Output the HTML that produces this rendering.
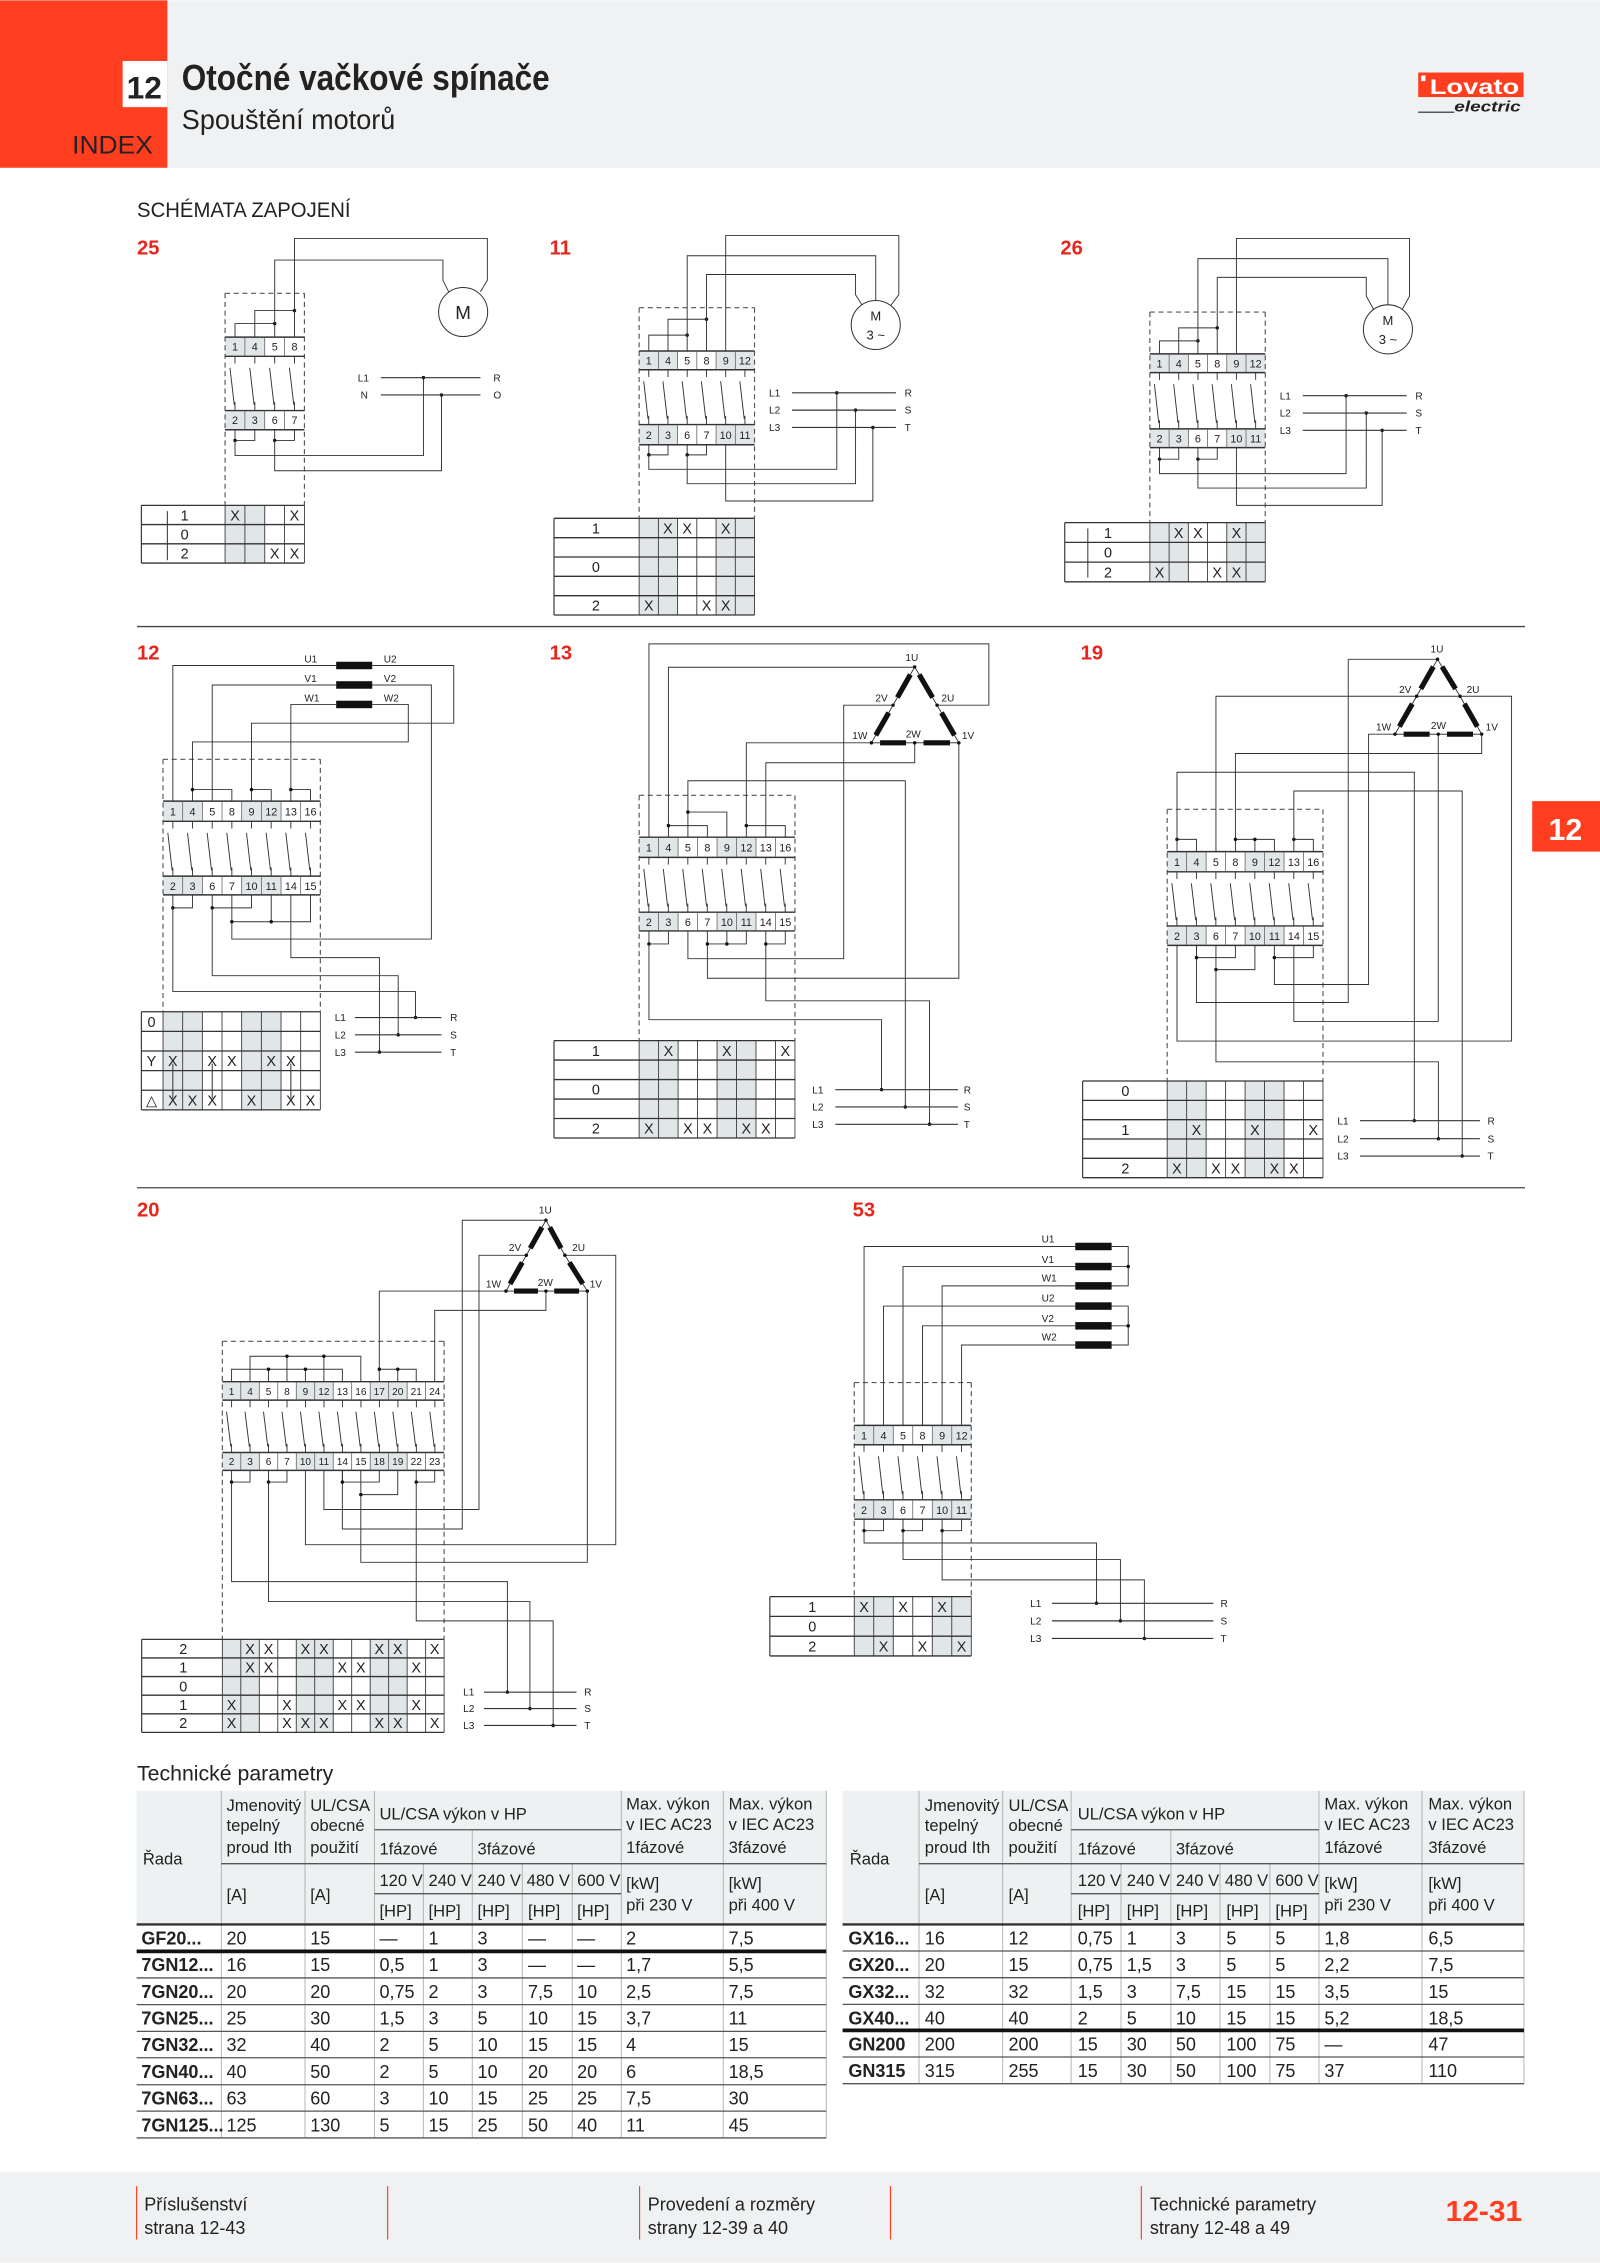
<!DOCTYPE html>
<html><head><meta charset="utf-8"><style>
html,body{margin:0;padding:0;background:#fff}
svg{display:block}
text{font-family:"Liberation Sans Narrow","Liberation Sans",sans-serif;fill:#222}
.t{font-size:7.5px;text-anchor:middle}
.s{font-size:7px;text-anchor:middle}
.x{font-size:10px;text-anchor:middle}
.r{font-size:10px;text-anchor:middle}
.l{font-size:7px}
.n{font-size:14px;font-weight:bold;fill:#e8251b}
.h{font-size:11.5px}
.d{font-size:12.5px}
.b{font-size:12.5px;font-weight:bold}
</style></head><body>
<svg id="sv" width="1600" height="2263" viewBox="0 0 1109 1568" xmlns="http://www.w3.org/2000/svg">
<rect x="0" y="0" width="1109" height="116" fill="#eff1f2"/>
<rect x="0" y="0" width="116" height="116" fill="#ff3d1f"/>
<rect x="85" y="42" width="31" height="32" fill="#fff"/>
<text x="100" y="68" style="font-size:22px;font-weight:bold;text-anchor:middle">12</text>
<text x="126" y="62" style="font-size:25px;font-weight:bold" textLength="255" lengthAdjust="spacingAndGlyphs">Otočné vačkové spínače</text>
<text x="126" y="89" style="font-size:19px" textLength="148" lengthAdjust="spacingAndGlyphs">Spouštění motorů</text>
<text x="50" y="106" style="font-size:17px" textLength="56" lengthAdjust="spacingAndGlyphs">INDEX</text>
<rect x="983" y="50" width="73" height="17" fill="#ff3d1f"/>
<rect x="985" y="52" width="3" height="4" fill="#fff"/>
<text x="991" y="65" style="font-size:15px;font-weight:bold;fill:#fff" textLength="62" lengthAdjust="spacingAndGlyphs">Lovato</text>
<text x="1008" y="77" style="font-size:10px;font-weight:bold;font-style:italic" textLength="46" lengthAdjust="spacingAndGlyphs">electric</text>
<line x1="983" y1="77.5" x2="1008" y2="77.5" stroke="#222" stroke-width="0.8"/>

<text x="95" y="150" style="font-size:15px" textLength="148" lengthAdjust="spacingAndGlyphs">SCHÉMATA ZAPOJENÍ</text>
<text x="95" y="176" class="n">25</text>
<text x="381" y="176" class="n">11</text>
<text x="735" y="176" class="n">26</text>
<text x="95" y="457" class="n">12</text>
<text x="381" y="457" class="n">13</text>
<text x="749" y="457" class="n">19</text>
<text x="95" y="843" class="n">20</text>
<text x="591" y="843" class="n">53</text>
<line x1="95" y1="434" x2="1057" y2="434" stroke="#444" stroke-width="0.9"/>
<line x1="95" y1="823" x2="1057" y2="823" stroke="#444" stroke-width="0.9"/>
<rect x="1062" y="555" width="47" height="35" fill="#ff3d1f"/>
<text x="1085" y="582" style="font-size:21px;font-weight:bold;fill:#fff;text-anchor:middle">12</text>

<g id="g"></g>

<!-- Diagram 25 labels -->
<text class="t" y="242.5"><tspan x="162.9">1</tspan><tspan x="176.6">4</tspan><tspan x="190.4">5</tspan><tspan x="204.1">8</tspan></text>
<text class="t" y="293.5"><tspan x="162.9">2</tspan><tspan x="176.6">3</tspan><tspan x="190.4">6</tspan><tspan x="204.1">7</tspan></text>
<text x="321" y="221" style="font-size:13px;text-anchor:middle">M</text>
<text class="l" x="248" y="264">L1</text><text class="l" x="250" y="276">N</text>
<text class="l" x="342" y="264">R</text><text class="l" x="342" y="276">O</text>
<text class="r" y="360.5"><tspan x="128">1</tspan><tspan x="162.9">X</tspan><tspan x="204.1">X</tspan></text>
<text class="r" y="373.8"><tspan x="128">0</tspan></text>
<text class="r" y="387"><tspan x="128">2</tspan><tspan x="190.4">X</tspan><tspan x="204.1">X</tspan></text>

<!-- Diagram 11 -->
<text class="t" y="252.5"><tspan x="449.7">1</tspan><tspan x="463">4</tspan><tspan x="476.3">5</tspan><tspan x="489.7">8</tspan><tspan x="503">9</tspan><tspan x="516.3">12</tspan></text>
<text class="t" y="304"><tspan x="449.7">2</tspan><tspan x="463">3</tspan><tspan x="476.3">6</tspan><tspan x="489.7">7</tspan><tspan x="503">10</tspan><tspan x="516.3">11</tspan></text>
<text x="607" y="222" style="font-size:9px;text-anchor:middle">M</text><text x="607" y="235" style="font-size:9px;text-anchor:middle">3 ~</text>
<text class="l" x="533" y="274.5">L1</text><text class="l" x="533" y="286.5">L2</text><text class="l" x="533" y="298.5">L3</text>
<text class="l" x="627" y="274.5">R</text><text class="l" x="627" y="286.5">S</text><text class="l" x="627" y="298.5">T</text>
<text class="r" y="369.5"><tspan x="413">1</tspan><tspan x="463">X</tspan><tspan x="476.3">X</tspan><tspan x="503">X</tspan></text>
<text class="r" y="396.3"><tspan x="413">0</tspan></text>
<text class="r" y="423"><tspan x="413">2</tspan><tspan x="449.7">X</tspan><tspan x="489.7">X</tspan><tspan x="503">X</tspan></text>

<!-- Diagram 26 -->
<text class="t" y="254.5"><tspan x="803.7">1</tspan><tspan x="817">4</tspan><tspan x="830.3">5</tspan><tspan x="843.7">8</tspan><tspan x="857">9</tspan><tspan x="870.3">12</tspan></text>
<text class="t" y="306.5"><tspan x="803.7">2</tspan><tspan x="817">3</tspan><tspan x="830.3">6</tspan><tspan x="843.7">7</tspan><tspan x="857">10</tspan><tspan x="870.3">11</tspan></text>
<text x="962" y="225" style="font-size:9px;text-anchor:middle">M</text><text x="962" y="238" style="font-size:9px;text-anchor:middle">3 ~</text>
<text class="l" x="887" y="276.5">L1</text><text class="l" x="887" y="288.5">L2</text><text class="l" x="887" y="300.5">L3</text>
<text class="l" x="981" y="276.5">R</text><text class="l" x="981" y="288.5">S</text><text class="l" x="981" y="300.5">T</text>
<text class="r" y="372.5"><tspan x="768">1</tspan><tspan x="817">X</tspan><tspan x="830.3">X</tspan><tspan x="857">X</tspan></text>
<text class="r" y="386"><tspan x="768">0</tspan></text>
<text class="r" y="400"><tspan x="768">2</tspan><tspan x="803.7">X</tspan><tspan x="843.7">X</tspan><tspan x="857">X</tspan></text>

<!-- Diagram 12 -->
<text class="t" y="565"><tspan x="119.8">1</tspan><tspan x="133.4">4</tspan><tspan x="147.1">5</tspan><tspan x="160.7">8</tspan><tspan x="174.3">9</tspan><tspan x="188">12</tspan><tspan x="201.6">13</tspan><tspan x="215.2">16</tspan></text>
<text class="t" y="616.5"><tspan x="119.8">2</tspan><tspan x="133.4">3</tspan><tspan x="147.1">6</tspan><tspan x="160.7">7</tspan><tspan x="174.3">10</tspan><tspan x="188">11</tspan><tspan x="201.6">14</tspan><tspan x="215.2">15</tspan></text>
<text class="l" x="211" y="459">U1</text><text class="l" x="211" y="472.5">V1</text><text class="l" x="211" y="486">W1</text>
<text class="l" x="266" y="459">U2</text><text class="l" x="266" y="472.5">V2</text><text class="l" x="266" y="486">W2</text>
<text class="l" x="232" y="707.5">L1</text><text class="l" x="232" y="719.5">L2</text><text class="l" x="232" y="731.5">L3</text>
<text class="l" x="312" y="707.5">R</text><text class="l" x="312" y="719.5">S</text><text class="l" x="312" y="731.5">T</text>
<text class="r" y="711.5"><tspan x="105">0</tspan></text>
<text class="r" y="738.7"><tspan x="105">Y</tspan><tspan x="119.8">X</tspan><tspan x="147.1">X</tspan><tspan x="160.7">X</tspan><tspan x="188">X</tspan><tspan x="201.6">X</tspan></text>
<text class="r" y="765.9"><tspan x="105">△</tspan><tspan x="119.8">X</tspan><tspan x="133.4">X</tspan><tspan x="147.1">X</tspan><tspan x="174.3">X</tspan><tspan x="201.6">X</tspan><tspan x="215.2">X</tspan></text>

<!-- Diagram 13 -->
<text class="t" y="590"><tspan x="449.8">1</tspan><tspan x="463.3">4</tspan><tspan x="476.8">5</tspan><tspan x="490.3">8</tspan><tspan x="503.8">9</tspan><tspan x="517.3">12</tspan><tspan x="530.8">13</tspan><tspan x="544.3">16</tspan></text>
<text class="t" y="641.5"><tspan x="449.8">2</tspan><tspan x="463.3">3</tspan><tspan x="476.8">6</tspan><tspan x="490.3">7</tspan><tspan x="503.8">10</tspan><tspan x="517.3">11</tspan><tspan x="530.8">14</tspan><tspan x="544.3">15</tspan></text>
<text class="s" x="632" y="458">1U</text><text class="s" x="611" y="486">2V</text><text class="s" x="657" y="486">2U</text>
<text class="s" x="596" y="512">1W</text><text class="s" x="633" y="511">2W</text><text class="s" x="671" y="512">1V</text>
<text class="l" x="563" y="757.5">L1</text><text class="l" x="563" y="769.5">L2</text><text class="l" x="563" y="781.5">L3</text>
<text class="l" x="668" y="757.5">R</text><text class="l" x="668" y="769.5">S</text><text class="l" x="668" y="781.5">T</text>
<text class="r" y="731.5"><tspan x="413">1</tspan><tspan x="463.3">X</tspan><tspan x="503.8">X</tspan><tspan x="544.3">X</tspan></text>
<text class="r" y="758.5"><tspan x="413">0</tspan></text>
<text class="r" y="785.5"><tspan x="413">2</tspan><tspan x="449.8">X</tspan><tspan x="476.8">X</tspan><tspan x="490.3">X</tspan><tspan x="517.3">X</tspan><tspan x="530.8">X</tspan></text>

<!-- Diagram 19 -->
<text class="t" y="600"><tspan x="815.8">1</tspan><tspan x="829.3">4</tspan><tspan x="842.8">5</tspan><tspan x="856.3">8</tspan><tspan x="869.8">9</tspan><tspan x="883.3">12</tspan><tspan x="896.8">13</tspan><tspan x="910.3">16</tspan></text>
<text class="t" y="651.3"><tspan x="815.8">2</tspan><tspan x="829.3">3</tspan><tspan x="842.8">6</tspan><tspan x="856.3">7</tspan><tspan x="869.8">10</tspan><tspan x="883.3">11</tspan><tspan x="896.8">14</tspan><tspan x="910.3">15</tspan></text>
<text class="s" x="996" y="452">1U</text><text class="s" x="974" y="480">2V</text><text class="s" x="1021" y="480">2U</text>
<text class="s" x="959" y="506">1W</text><text class="s" x="997" y="505">2W</text><text class="s" x="1034" y="506">1V</text>
<text class="l" x="927" y="779">L1</text><text class="l" x="927" y="791.5">L2</text><text class="l" x="927" y="803.5">L3</text>
<text class="l" x="1031" y="779">R</text><text class="l" x="1031" y="791.5">S</text><text class="l" x="1031" y="803.5">T</text>
<text class="r" y="759.5"><tspan x="780">0</tspan></text>
<text class="r" y="786.3"><tspan x="780">1</tspan><tspan x="829.3">X</tspan><tspan x="869.8">X</tspan><tspan x="910.3">X</tspan></text>
<text class="r" y="813"><tspan x="780">2</tspan><tspan x="815.8">X</tspan><tspan x="842.8">X</tspan><tspan x="856.3">X</tspan><tspan x="883.3">X</tspan><tspan x="896.8">X</tspan></text>

<!-- Diagram 20 -->
<text class="s" y="966.5"><tspan x="160.5">1</tspan><tspan x="173.3">4</tspan><tspan x="186.1">5</tspan><tspan x="198.9">8</tspan><tspan x="211.7">9</tspan><tspan x="224.5">12</tspan><tspan x="237.3">13</tspan><tspan x="250.1">16</tspan><tspan x="262.9">17</tspan><tspan x="275.7">20</tspan><tspan x="288.5">21</tspan><tspan x="301.3">24</tspan></text>
<text class="s" y="1015.3"><tspan x="160.5">2</tspan><tspan x="173.3">3</tspan><tspan x="186.1">6</tspan><tspan x="198.9">7</tspan><tspan x="211.7">10</tspan><tspan x="224.5">11</tspan><tspan x="237.3">14</tspan><tspan x="250.1">15</tspan><tspan x="262.9">18</tspan><tspan x="275.7">19</tspan><tspan x="288.5">22</tspan><tspan x="301.3">23</tspan></text>
<text class="s" x="378" y="841">1U</text><text class="s" x="357" y="867">2V</text><text class="s" x="401" y="867">2U</text>
<text class="s" x="342" y="892">1W</text><text class="s" x="378" y="891">2W</text><text class="s" x="413" y="892">1V</text>
<text class="l" x="321" y="1175">L1</text><text class="l" x="321" y="1186.5">L2</text><text class="l" x="321" y="1198">L3</text>
<text class="l" x="405" y="1175">R</text><text class="l" x="405" y="1186.5">S</text><text class="l" x="405" y="1198">T</text>
<text class="r" y="1146"><tspan x="127">2</tspan><tspan x="173.3">X</tspan><tspan x="186.1">X</tspan><tspan x="211.7">X</tspan><tspan x="224.5">X</tspan><tspan x="262.9">X</tspan><tspan x="275.7">X</tspan><tspan x="301.3">X</tspan></text>
<text class="r" y="1159"><tspan x="127">1</tspan><tspan x="173.3">X</tspan><tspan x="186.1">X</tspan><tspan x="237.3">X</tspan><tspan x="250.1">X</tspan><tspan x="288.5">X</tspan></text>
<text class="r" y="1172"><tspan x="127">0</tspan></text>
<text class="r" y="1184.8"><tspan x="127">1</tspan><tspan x="160.5">X</tspan><tspan x="198.9">X</tspan><tspan x="237.3">X</tspan><tspan x="250.1">X</tspan><tspan x="288.5">X</tspan></text>
<text class="r" y="1197.6"><tspan x="127">2</tspan><tspan x="160.5">X</tspan><tspan x="198.9">X</tspan><tspan x="211.7">X</tspan><tspan x="224.5">X</tspan><tspan x="262.9">X</tspan><tspan x="275.7">X</tspan><tspan x="301.3">X</tspan></text>

<!-- Diagram 53 -->
<text class="t" y="997.4"><tspan x="598.9">1</tspan><tspan x="612.4">4</tspan><tspan x="625.9">5</tspan><tspan x="639.4">8</tspan><tspan x="653">9</tspan><tspan x="666.5">12</tspan></text>
<text class="t" y="1049"><tspan x="598.9">2</tspan><tspan x="612.4">3</tspan><tspan x="625.9">6</tspan><tspan x="639.4">7</tspan><tspan x="653">10</tspan><tspan x="666.5">11</tspan></text>
<text class="l" x="722" y="861">U1</text><text class="l" x="722" y="875">V1</text><text class="l" x="722" y="888">W1</text>
<text class="l" x="722" y="902">U2</text><text class="l" x="722" y="916">V2</text><text class="l" x="722" y="929">W2</text>
<text class="l" x="714" y="1113.5">L1</text><text class="l" x="714" y="1125.7">L2</text><text class="l" x="714" y="1138">L3</text>
<text class="l" x="846" y="1113.5">R</text><text class="l" x="846" y="1125.7">S</text><text class="l" x="846" y="1138">T</text>
<text class="r" y="1117"><tspan x="563">1</tspan><tspan x="598.9">X</tspan><tspan x="625.9">X</tspan><tspan x="653">X</tspan></text>
<text class="r" y="1130.7"><tspan x="563">0</tspan></text>
<text class="r" y="1144.4"><tspan x="563">2</tspan><tspan x="612.4">X</tspan><tspan x="639.4">X</tspan><tspan x="666.5">X</tspan></text>

<!-- Technical tables -->
<text x="95" y="1234" style="font-size:15px" textLength="136" lengthAdjust="spacingAndGlyphs">Technické parametry</text>
<rect x="94.7" y="1241" width="478" height="92.6" fill="#eef1f2"/>
<rect x="584" y="1241" width="472.3" height="92.6" fill="#eef1f2"/>
<g id="tl"></g>
<text class="h" x="99" y="1292">Řada</text>
<text class="h" x="157" y="1255">Jmenovitý</text><text class="h" x="157" y="1269">tepelný</text><text class="h" x="157" y="1284">proud Ith</text>
<text class="h" x="215" y="1255">UL/CSA</text><text class="h" x="215" y="1269">obecné</text><text class="h" x="215" y="1284">použití</text>
<text class="h" x="263" y="1261">UL/CSA výkon v HP</text>
<text class="h" x="263" y="1285">1fázové</text><text class="h" x="331" y="1285">3fázové</text>
<text class="h" x="434" y="1254">Max. výkon</text><text class="h" x="434" y="1268">v IEC AC23</text><text class="h" x="434" y="1284">1fázové</text>
<text class="h" x="505" y="1254">Max. výkon</text><text class="h" x="505" y="1268">v IEC AC23</text><text class="h" x="505" y="1284">3fázové</text>
<text class="h" x="157" y="1317">[A]</text><text class="h" x="215" y="1317">[A]</text>
<text class="h" y="1307"><tspan x="263">120 V</tspan><tspan x="297">240 V</tspan><tspan x="331">240 V</tspan><tspan x="365">480 V</tspan><tspan x="400">600 V</tspan></text>
<text class="h" y="1328"><tspan x="263">[HP]</tspan><tspan x="297">[HP]</tspan><tspan x="331">[HP]</tspan><tspan x="366">[HP]</tspan><tspan x="400">[HP]</tspan></text>
<text class="h" x="434" y="1309">[kW]</text><text class="h" x="434" y="1324">při 230 V</text>
<text class="h" x="505" y="1309">[kW]</text><text class="h" x="505" y="1324">při 400 V</text>

<text class="h" x="589" y="1292">Řada</text>
<text class="h" x="641" y="1255">Jmenovitý</text><text class="h" x="641" y="1269">tepelný</text><text class="h" x="641" y="1284">proud Ith</text>
<text class="h" x="699" y="1255">UL/CSA</text><text class="h" x="699" y="1269">obecné</text><text class="h" x="699" y="1284">použití</text>
<text class="h" x="747" y="1261">UL/CSA výkon v HP</text>
<text class="h" x="747" y="1285">1fázové</text><text class="h" x="815" y="1285">3fázové</text>
<text class="h" x="918" y="1254">Max. výkon</text><text class="h" x="918" y="1268">v IEC AC23</text><text class="h" x="918" y="1284">1fázové</text>
<text class="h" x="990" y="1254">Max. výkon</text><text class="h" x="990" y="1268">v IEC AC23</text><text class="h" x="990" y="1284">3fázové</text>
<text class="h" x="641" y="1317">[A]</text><text class="h" x="699" y="1317">[A]</text>
<text class="h" y="1307"><tspan x="747">120 V</tspan><tspan x="781">240 V</tspan><tspan x="815">240 V</tspan><tspan x="849">480 V</tspan><tspan x="884">600 V</tspan></text>
<text class="h" y="1328"><tspan x="747">[HP]</tspan><tspan x="781">[HP]</tspan><tspan x="815">[HP]</tspan><tspan x="850">[HP]</tspan><tspan x="884">[HP]</tspan></text>
<text class="h" x="918" y="1309">[kW]</text><text class="h" x="918" y="1324">při 230 V</text>
<text class="h" x="990" y="1309">[kW]</text><text class="h" x="990" y="1324">při 400 V</text>

<g class="d">
<text y="1347.5"><tspan class="b" x="98">GF20...</tspan><tspan x="157">20</tspan><tspan x="215">15</tspan><tspan x="263">—</tspan><tspan x="297">1</tspan><tspan x="331">3</tspan><tspan x="366">—</tspan><tspan x="400">—</tspan><tspan x="434">2</tspan><tspan x="505">7,5</tspan></text>
<text y="1366"><tspan class="b" x="98">7GN12...</tspan><tspan x="157">16</tspan><tspan x="215">15</tspan><tspan x="263">0,5</tspan><tspan x="297">1</tspan><tspan x="331">3</tspan><tspan x="366">—</tspan><tspan x="400">—</tspan><tspan x="434">1,7</tspan><tspan x="505">5,5</tspan></text>
<text y="1384.5"><tspan class="b" x="98">7GN20...</tspan><tspan x="157">20</tspan><tspan x="215">20</tspan><tspan x="263">0,75</tspan><tspan x="297">2</tspan><tspan x="331">3</tspan><tspan x="366">7,5</tspan><tspan x="400">10</tspan><tspan x="434">2,5</tspan><tspan x="505">7,5</tspan></text>
<text y="1403"><tspan class="b" x="98">7GN25...</tspan><tspan x="157">25</tspan><tspan x="215">30</tspan><tspan x="263">1,5</tspan><tspan x="297">3</tspan><tspan x="331">5</tspan><tspan x="366">10</tspan><tspan x="400">15</tspan><tspan x="434">3,7</tspan><tspan x="505">11</tspan></text>
<text y="1421.5"><tspan class="b" x="98">7GN32...</tspan><tspan x="157">32</tspan><tspan x="215">40</tspan><tspan x="263">2</tspan><tspan x="297">5</tspan><tspan x="331">10</tspan><tspan x="366">15</tspan><tspan x="400">15</tspan><tspan x="434">4</tspan><tspan x="505">15</tspan></text>
<text y="1440"><tspan class="b" x="98">7GN40...</tspan><tspan x="157">40</tspan><tspan x="215">50</tspan><tspan x="263">2</tspan><tspan x="297">5</tspan><tspan x="331">10</tspan><tspan x="366">20</tspan><tspan x="400">20</tspan><tspan x="434">6</tspan><tspan x="505">18,5</tspan></text>
<text y="1458.5"><tspan class="b" x="98">7GN63...</tspan><tspan x="157">63</tspan><tspan x="215">60</tspan><tspan x="263">3</tspan><tspan x="297">10</tspan><tspan x="331">15</tspan><tspan x="366">25</tspan><tspan x="400">25</tspan><tspan x="434">7,5</tspan><tspan x="505">30</tspan></text>
<text y="1477"><tspan class="b" x="98">7GN125...</tspan><tspan x="157">125</tspan><tspan x="215">130</tspan><tspan x="263">5</tspan><tspan x="297">15</tspan><tspan x="331">25</tspan><tspan x="366">50</tspan><tspan x="400">40</tspan><tspan x="434">11</tspan><tspan x="505">45</tspan></text>

<text y="1347.5"><tspan class="b" x="588">GX16...</tspan><tspan x="641">16</tspan><tspan x="699">12</tspan><tspan x="747">0,75</tspan><tspan x="781">1</tspan><tspan x="815">3</tspan><tspan x="850">5</tspan><tspan x="884">5</tspan><tspan x="918">1,8</tspan><tspan x="990">6,5</tspan></text>
<text y="1366"><tspan class="b" x="588">GX20...</tspan><tspan x="641">20</tspan><tspan x="699">15</tspan><tspan x="747">0,75</tspan><tspan x="781">1,5</tspan><tspan x="815">3</tspan><tspan x="850">5</tspan><tspan x="884">5</tspan><tspan x="918">2,2</tspan><tspan x="990">7,5</tspan></text>
<text y="1384.5"><tspan class="b" x="588">GX32...</tspan><tspan x="641">32</tspan><tspan x="699">32</tspan><tspan x="747">1,5</tspan><tspan x="781">3</tspan><tspan x="815">7,5</tspan><tspan x="850">15</tspan><tspan x="884">15</tspan><tspan x="918">3,5</tspan><tspan x="990">15</tspan></text>
<text y="1403"><tspan class="b" x="588">GX40...</tspan><tspan x="641">40</tspan><tspan x="699">40</tspan><tspan x="747">2</tspan><tspan x="781">5</tspan><tspan x="815">10</tspan><tspan x="850">15</tspan><tspan x="884">15</tspan><tspan x="918">5,2</tspan><tspan x="990">18,5</tspan></text>
<text y="1421"><tspan class="b" x="588">GN200</tspan><tspan x="641">200</tspan><tspan x="699">200</tspan><tspan x="747">15</tspan><tspan x="781">30</tspan><tspan x="815">50</tspan><tspan x="850">100</tspan><tspan x="884">75</tspan><tspan x="918">—</tspan><tspan x="990">47</tspan></text>
<text y="1439.5"><tspan class="b" x="588">GN315</tspan><tspan x="641">315</tspan><tspan x="699">255</tspan><tspan x="747">15</tspan><tspan x="781">30</tspan><tspan x="815">50</tspan><tspan x="850">100</tspan><tspan x="884">75</tspan><tspan x="918">37</tspan><tspan x="990">110</tspan></text>
</g>

<!-- Footer -->
<rect x="0" y="1505" width="1109" height="63" fill="#eff1f2"/>
<g stroke="#ff3d1f" stroke-width="0.8"><line x1="94.7" y1="1515" x2="94.7" y2="1552"/><line x1="268.7" y1="1515" x2="268.7" y2="1552"/><line x1="443.3" y1="1515" x2="443.3" y2="1552"/><line x1="617.2" y1="1515" x2="617.2" y2="1552"/><line x1="791.1" y1="1515" x2="791.1" y2="1552"/></g>
<text x="100" y="1532" style="font-size:12.5px">Příslušenství</text><text x="100" y="1548" style="font-size:12.5px">strana 12-43</text>
<text x="449" y="1532" style="font-size:12.5px">Provedení a rozměry</text><text x="449" y="1548" style="font-size:12.5px">strany 12-39 a 40</text>
<text x="797" y="1532" style="font-size:12.5px">Technické parametry</text><text x="797" y="1548" style="font-size:12.5px">strany 12-48 a 49</text>
<text x="1002" y="1539" style="font-size:20px;font-weight:bold;fill:#ff3d1f" textLength="53" lengthAdjust="spacingAndGlyphs">12-31</text>
</svg>
<script>
(function(){
var NS='http://www.w3.org/2000/svg';
var G=document.getElementById('g');
function el(p,t,a){var e=document.createElementNS(NS,t);for(var k in a)e.setAttribute(k,a[k]);p.insertBefore(e,p.firstChild&&t==='rect'&&a.bg?p.firstChild:null);return e;}
function W(){var a=arguments,p=[];for(var i=0;i<a.length;i+=2)p.push(a[i]+','+a[i+1]);el(G,'polyline',{points:p.join(' '),fill:'none',stroke:'#333','stroke-width':0.65});}
function D(x,y){el(G,'circle',{cx:x,cy:y,r:1.2,fill:'#111'});}
function L(x1,y1,x2,y2,w,c,da){var o={x1:x1,y1:y1,x2:x2,y2:y2,stroke:c||'#333','stroke-width':w||0.65};if(da)o['stroke-dasharray']=da;el(G,'line',o);}
function fillc(i){return (Math.floor(i/2)%2==0)?'#e1e7e9':'#fff';}
function blk(x0,n,cw,t1,t2,b1,b2,dt,db){
  var x1=x0+n*cw;
  for(var i=0;i<n;i++){
    el(G,'rect',{x:x0+i*cw,y:t1,width:cw,height:t2-t1,fill:fillc(i)});
    el(G,'rect',{x:x0+i*cw,y:b1,width:cw,height:b2-b1,fill:fillc(i)});
  }
  L(x0,dt,x1,dt,0.8,'#555','3.5 2.5');L(x0,dt,x0,db,0.8,'#555','3.5 2.5');L(x1,dt,x1,db,0.8,'#555','3.5 2.5');
  [t1,t2,b1,b2].forEach(function(y){L(x0,y,x1,y,1,'#333');});
  for(var i=1;i<n;i++){L(x0+i*cw,t1,x0+i*cw,t2,0.5,'#555');L(x0+i*cw,b1,x0+i*cw,b2,0.5,'#555');}
  for(var i=0;i<n;i++){var c=x0+cw*(i+.5);
    L(c,t2,c,t2+5);L(c-3.5,t2+8,c-0.5,b1-4);L(c,b1-6,c,b1);}
}
function tbl(xl,x0,n,cw,y0,rh,nr){
  var x1=x0+n*cw,y1=y0+nr*rh;
  el(G,'rect',{x:xl,y:y0,width:x1-xl,height:y1-y0,fill:'#fff'});
  for(var i=0;i<n;i++)el(G,'rect',{x:x0+i*cw,y:y0,width:cw,height:y1-y0,fill:fillc(i)});
  for(var k=0;k<=nr;k++)L(xl,y0+k*rh,x1,y0+k*rh,0.9,'#333');
  L(xl,y0,xl,y1,0.8);for(var i=0;i<=n;i++)L(x0+i*cw,y0,x0+i*cw,y1,0.6);
}
function motor(x,y){el(G,'circle',{cx:x,cy:y,r:17,fill:'#fff',stroke:'#333','stroke-width':0.7});}
function coilH(x1,x2,y){el(G,'rect',{x:x1,y:y-2.6,width:x2-x1,height:5.2,fill:'#111'});}
function tri(n){
  var segs=[['u1','v2'],['v2','w1'],['u1','u2'],['u2','v1'],['w1','w2'],['w2','v1']];
  segs.forEach(function(s){var a=n[s[0]],b=n[s[1]];L(a[0],a[1],b[0],b[1],0.6,'#222');
    var ax=a[0]+(b[0]-a[0])*0.2,ay=a[1]+(b[1]-a[1])*0.2,bx=a[0]+(b[0]-a[0])*0.8,by=a[1]+(b[1]-a[1])*0.8;
    L(ax,ay,bx,by,3.6,'#111');});
  for(var k in n)D(n[k][0],n[k][1]);
}
// ---- 25
tbl(98,156,4,13.75,350,13.33,3);
blk(156,4,13.75,233.4,246.7,284.3,297.6,203,350);
W(162.9,233.4,162.9,224,190.4,224);D(190.4,224);
W(176.6,233.4,176.6,215,204.1,215);D(204.1,215);
W(190.4,233.4,190.4,180,307,180,307,194,311,202);
W(204.1,233.4,204.1,165,337.8,165,337.8,194,333,202);
motor(321,216);
W(162.9,297.6,162.9,305,176.6,305,176.6,297.6);D(162.9,305);
W(190.4,297.6,190.4,305,204.1,305,204.1,297.6);D(190.4,305);
W(162.9,305,162.9,315.5,293.5,315.5,293.5,261.5);D(293.5,261.5);
W(190.4,305,190.4,326,306,326,306,273.5);D(306,273.5);
L(264,261.5,333,261.5,0.8);L(264,273.5,333,273.5,0.8);
L(116,354,116,388,0.7);
// ---- 11
tbl(384,443,6,13.33,359,13.4,5);
blk(443,6,13.33,243,256,294,308,213,359);
W(449.7,243,449.7,232,476.3,232);D(476.3,232);
W(463,243,463,221,489.7,221);D(489.7,221);
W(476.3,243,476.3,177,607,177,607,208);
W(489.7,243,489.7,190,593,190,593,204,598,212);
W(503,243,503,163,623,163,623,204,617,212);
motor(607,225);
W(449.7,308,449.7,315,463,315,463,308);D(449.7,315);
W(476.3,308,476.3,315,489.7,315,489.7,308);D(476.3,315);
W(449.7,315,449.7,325,580,325,580,272);D(580,272);
W(476.3,315,476.3,335,593,335,593,284);D(593,284);
W(503,308,503,347,605,347,605,296);D(605,296);
[272,284,296].forEach(function(y){L(549,y,621,y,0.8);});
// ---- 26
tbl(738,797,6,13.33,362,13.67,3);
blk(797,6,13.33,245,258,297,310,216,362);
W(803.7,245,803.7,236,830.3,236);D(830.3,236);
W(817,245,817,227,843.7,227);D(843.7,227);
W(830.3,245,830.3,179,962,179,962,211);
W(843.7,245,843.7,192,947,192,947,205,952,214);
W(857,245,857,165,977,165,977,205,972,214);
motor(962,228);
W(803.7,310,803.7,318,817,318,817,310);D(803.7,318);
W(830.3,310,830.3,318,843.7,318,843.7,310);D(830.3,318);
W(803.7,318,803.7,328,933,328,933,274);D(933,274);
W(830.3,318,830.3,338,947,338,947,286);D(947,286);
W(857,310,857,350,958,350,958,298);D(958,298);
[274,286,298].forEach(function(y){L(903,y,975,y,0.8);});
L(754,366,754,400,0.7);
// ---- 12
tbl(98,113,8,13.63,701,13.6,5);
blk(113,8,13.63,555,569,607,620,526,701);
W(119.8,555,119.8,461,233,461);
W(147.1,555,147.1,474.5,233,474.5);
W(201.6,555,201.6,488,233,488);
W(258,461,314.5,461,314.5,501,174.3,501,174.3,555);
W(258,474.5,299,474.5,299,650.6,160.7,650.6,160.7,620);
W(258,488,283,488,283,514,133.4,514,133.4,555);
coilH(233,258,461);coilH(233,258,474.5);coilH(233,258,488);
W(133.4,547,160.7,547,160.7,555);D(133.4,547);
W(174.3,547,188,547,188,555);D(174.3,547);
W(201.6,547,215.2,547,215.2,555);D(201.6,547);
W(119.8,620,119.8,629,133.4,629,133.4,620);D(119.8,629);
W(147.1,620,147.1,629,174.3,629,174.3,620);D(147.1,629);
W(160.7,638.6,215.2,638.6,215.2,620);W(188,620,188,638.6);D(160.7,638.6);D(188,638.6);
W(119.8,629,119.8,687,288,687,288,705);D(288,705);
W(147.1,629,147.1,676,276,676,276,717);D(276,717);
W(201.6,620,201.6,663.5,263,663.5,263,729);D(263,729);
[705,717,729].forEach(function(y){L(246,y,306,y,0.8);});
[119.8,147.1,201.6].forEach(function(x){L(x,737,x,761,0.7);});
// ---- 13
tbl(384,443,8,13.5,721,13.5,5);
blk(443,8,13.5,580,594,632,645,551,721);
W(449.8,580,449.8,446,685.4,446,685.4,488.5,649.5,488.5);
W(463.3,580,463.3,462.2,634,462.2);
W(619,488.5,584.8,488.5,584.8,664.2,476.8,664.2,476.8,645);
W(604,514.6,517.3,514.6,517.3,580);
W(634,514.6,634,528.4,530.8,528.4,530.8,580);
W(530.8,645,530.8,693.4,644.3,693.4,644.3,779);D(644.3,779);
W(664.6,514.6,664.6,677.8,490.3,677.8,490.3,645);
W(476.8,580,476.8,540.9,627.5,540.9,627.5,767);D(627.5,767);
W(476.8,562.6,503.8,562.6,503.8,580);D(476.8,562.6);
W(463.3,572,490.3,572,490.3,580);D(463.3,572);
W(517.3,572,544.3,572,544.3,580);D(517.3,572);
W(449.8,645,449.8,654,463.3,654,463.3,645);D(449.8,654);
W(490.3,654,517.3,654,517.3,645);W(503.8,645,503.8,654);D(490.3,654);D(503.8,654);
W(530.8,654,544.3,654,544.3,645);D(530.8,654);
W(449.8,654,449.8,706.5,611,706.5,611,755);D(611,755);
[755,767,779].forEach(function(y){L(579,y,664,y,0.8);});
tri({u1:[634,462],v2:[619,488.5],u2:[649.5,488.5],w1:[604,514.6],w2:[634,514.6],v1:[664.6,514.6]});
// ---- 19
tbl(750.4,809,8,13.5,749,13.4,5);
blk(809,8,13.5,590,604,641.5,655,560.7,749);
W(996.4,456.7,934.5,456.7,934.5,694.6,829.3,694.6,829.3,655);
W(842.8,590,842.8,482.3,1047.7,482.3,1047.7,721.3,815.8,721.3,815.8,655);
W(966.9,508.6,948.6,508.6,948.6,682.1,883.3,682.1,883.3,655);
W(996.9,508.6,996.9,707.7,896.8,707.7,896.8,655);
W(1027,508.6,1027,522,856.3,522,856.3,590);
W(815.8,581.5,829.3,581.5,829.3,590);D(815.8,581.5);
W(856.3,581.5,883.3,581.5,883.3,590);W(869.8,581.5,869.8,590);D(856.3,581.5);D(869.8,581.5);
W(896.8,581.5,910.3,581.5,910.3,590);D(896.8,581.5);
W(815.8,590,815.8,535,980.3,535,980.3,776.5);D(980.3,776.5);
W(896.8,590,896.8,548,1013.5,548,1013.5,801);D(1013.5,801);
W(829.3,655,829.3,663.5,856.3,663.5,856.3,655);D(829.3,663.5);
W(883.3,663.5,910.3,663.5,910.3,655);D(883.3,663.5);
W(842.8,655,842.8,671.8,869.8,671.8,869.8,655);D(842.8,671.8);
W(842.8,671.8,842.8,735.7,997,735.7,997,789);D(997,789);
[776.5,789,801].forEach(function(y){L(942.6,y,1025.8,y,0.8);});
tri({u1:[996.4,456.7],v2:[981.9,482.3],u2:[1012,482.3],w1:[966.9,508.6],w2:[996.9,508.6],v1:[1027,508.6]});
// ---- 20
tbl(98.2,154.1,12,12.81,1136,12.9,5);
blk(154.1,12,12.81,957.4,970.2,1006.5,1018.9,929.4,1136);
W(378.4,845.5,320.4,845.5,320.4,1059.5,237.3,1059.5,237.3,1018.9);
W(364.8,869.8,332,869.8,332,1046,224.5,1046,224.5,1018.9);
W(391.5,869.8,426.8,869.8,426.8,1070.4,211.7,1070.4,211.7,1018.9);
W(350.7,894.6,262.9,894.6,262.9,957.4);
W(378.4,894.6,378.4,908,301.3,908,301.3,957.4);
W(407.1,894.6,407.1,1082.6,250.1,1082.6,250.1,1018.9);
W(173.3,957.4,173.3,939.8,250.1,939.8,250.1,957.4);W(198.9,939.8,198.9,957.4);W(224.5,939.8,224.5,957.4);D(198.9,939.8);D(224.5,939.8);
W(160.5,957.4,160.5,948.8,237.3,948.8,237.3,957.4);W(186.1,948.8,186.1,957.4);W(211.7,948.8,211.7,957.4);D(186.1,948.8);D(211.7,948.8);
W(262.9,948.8,288.5,948.8,288.5,957.4);W(275.7,948.8,275.7,957.4);D(262.9,948.8);D(275.7,948.8);
W(160.5,1018.9,160.5,1027,173.3,1027,173.3,1018.9);D(160.5,1027);
W(186.1,1018.9,186.1,1027,198.9,1027,198.9,1018.9);D(186.1,1027);
W(237.3,1018.9,237.3,1027,262.9,1027,262.9,1018.9);D(237.3,1027);
W(288.5,1018.9,288.5,1027,301.3,1027,301.3,1018.9);D(288.5,1027);
W(250.1,1035.7,275.7,1035.7,275.7,1018.9);D(250.1,1035.7);
W(160.5,1027,160.5,1096,351.7,1096,351.7,1172.6);D(351.7,1172.6);
W(186.1,1027,186.1,1109.8,367.3,1109.8,367.3,1184);D(367.3,1184);
W(288.5,1027,288.5,1123.2,383.4,1123.2,383.4,1195.7);D(383.4,1195.7);
[1172.6,1184,1195.7].forEach(function(y){L(335.5,y,399.6,y,0.8);});
tri({u1:[378.4,845.5],v2:[364.8,869.8],u2:[391.5,869.8],w1:[350.7,894.6],w2:[378.4,894.6],v1:[407.1,894.6]});
// ---- 53
tbl(533.6,592.1,6,13.52,1106.4,13.7,3);
blk(592.1,6,13.52,987.7,1001.1,1039.3,1052.7,958,1106.4);
W(745.3,863.7,598.9,863.7,598.9,987.7);
W(745.3,877.6,625.9,877.6,625.9,987.7);
W(745.3,891,653,891,653,987.7);
W(745.3,905,612.4,905,612.4,987.7);
W(745.3,918.7,639.4,918.7,639.4,987.7);
W(745.3,932,666.5,932,666.5,987.7);
W(770.5,863.7,782,863.7,782,891,770.5,891);W(770.5,877.6,782,877.6);D(782,877.6);
W(770.5,905,782,905,782,932,770.5,932);W(770.5,918.7,782,918.7);D(782,918.7);
[863.7,877.6,891,905,918.7,932].forEach(function(y){coilH(745.3,770.5,y);});
W(598.9,1052.7,598.9,1060.7,612.4,1060.7,612.4,1052.7);D(598.9,1060.7);
W(625.9,1052.7,625.9,1060.7,639.4,1060.7,639.4,1052.7);D(625.9,1060.7);
W(653,1052.7,653,1060.7,666.5,1060.7,666.5,1052.7);D(653,1060.7);
W(598.9,1060.7,598.9,1069.2,760,1069.2,760,1111);D(760,1111);
W(625.9,1060.7,625.9,1080.7,776.6,1080.7,776.6,1123.2);D(776.6,1123.2);
W(653,1060.7,653,1094.8,793.2,1094.8,793.2,1135.4);D(793.2,1135.4);
[1111,1123.2,1135.4].forEach(function(y){L(729.2,y,841,y,0.8);});

// ---- tech tables lines
var T=document.getElementById('tl');
function TL(x1,y1,x2,y2,w,c){var e=document.createElementNS(NS,'line');e.setAttribute('x1',x1);e.setAttribute('y1',y1);e.setAttribute('x2',x2);e.setAttribute('y2',y2);e.setAttribute('stroke',c);e.setAttribute('stroke-width',w);T.appendChild(e);}
function ttab(cols,rows,thick,end){
  var x0=cols[0],x1=cols[cols.length-1];
  // verticals
  for(var i=1;i<cols.length-1;i++){
    var top=1241;
    if(i==4||i==6||i==7)top=1291.5; if(i==5)top=1268;
    TL(cols[i],top,cols[i],end,0.6,'#aaa');
  }
  TL(x1,1241,x1,end,0.6,'#aaa');
  TL(cols[3],1268,cols[8],1268,0.9,'#555');
  TL(cols[1],1291.5,x1,1291.5,0.9,'#555');
  TL(cols[3],1312.3,cols[8],1312.3,0.9,'#555');
  TL(x0,1333.6,x1,1333.6,1.6,'#333');
  rows.forEach(function(y){TL(x0,y,x1,y,y==thick?2.6:0.9,y==thick?'#111':'#555');});
}
ttab([94.7,153.4,211.4,259.5,293.4,327.3,362,396.6,430.6,501.3,572.7],[1352.3,1370.7,1389.2,1407.7,1426,1444.7,1463,1481.6],1352.3,1481.6);
ttab([584,637,695,742.4,777,811.6,845.6,880.2,914.2,985.6,1056.3],[1352,1370.5,1389,1407,1425.5,1444],1407,1444);
})();
</script>
</body></html>
